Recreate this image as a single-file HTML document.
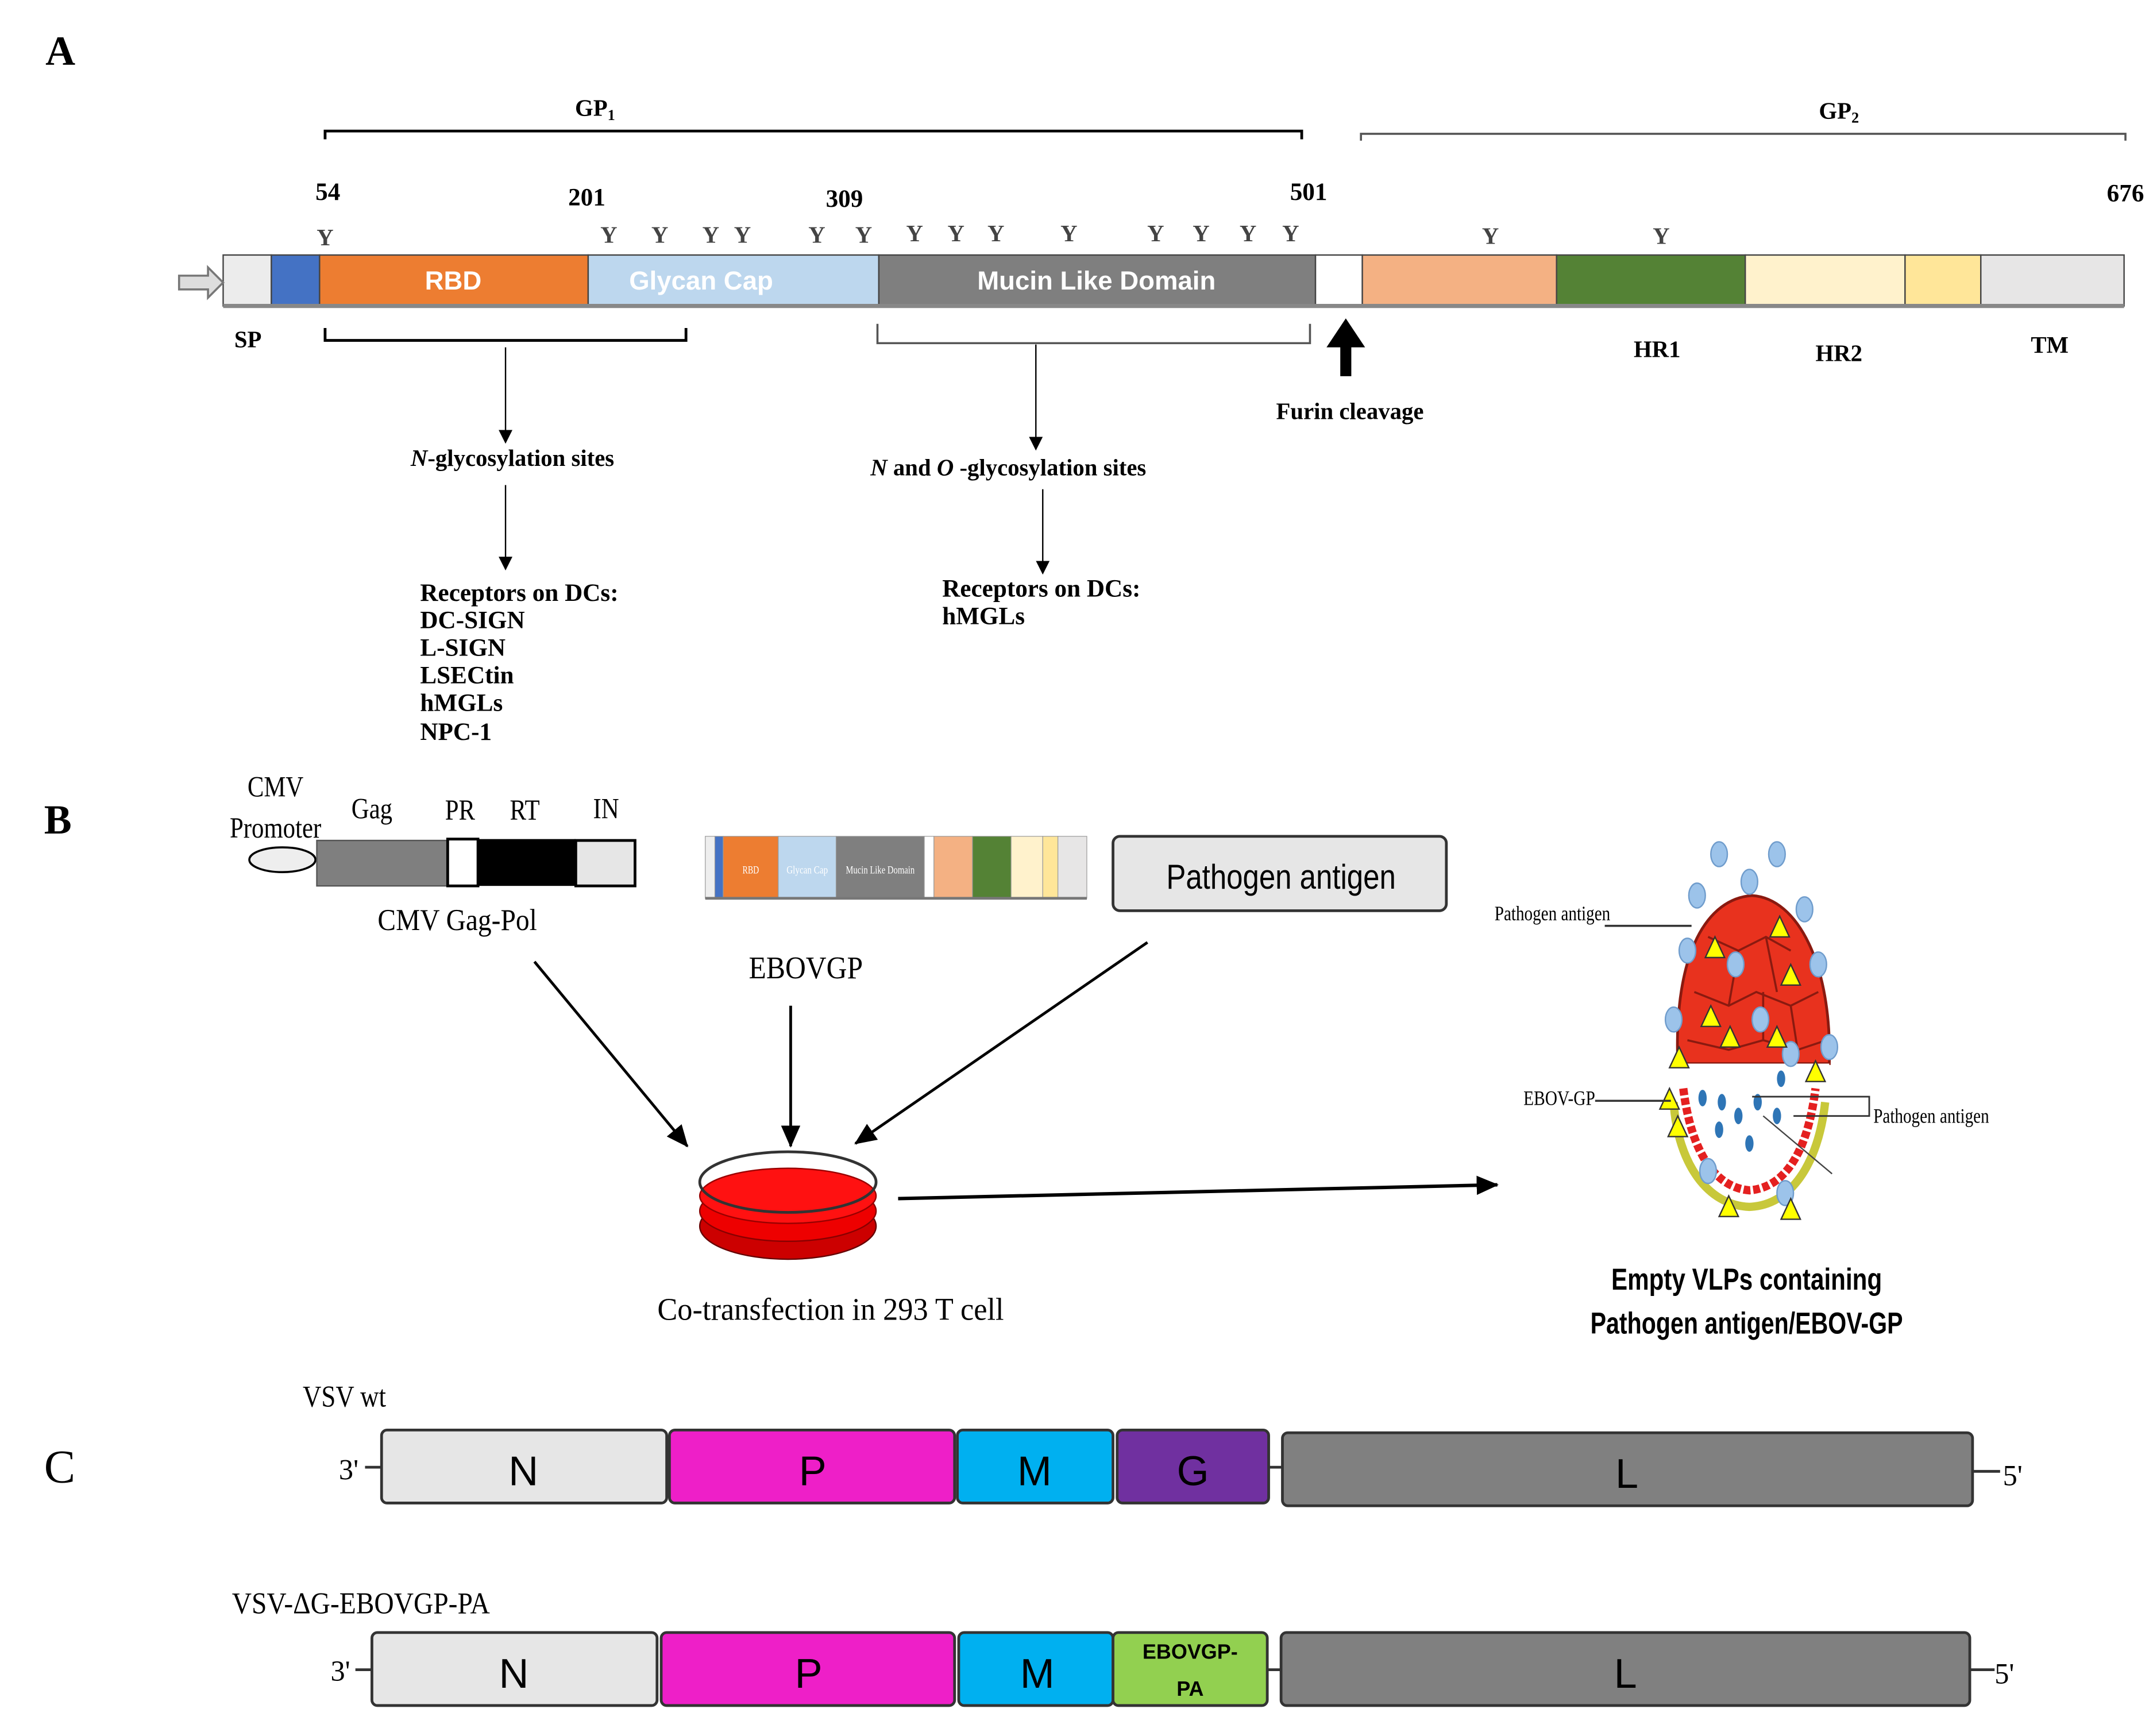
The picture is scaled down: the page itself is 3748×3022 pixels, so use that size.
<!DOCTYPE html>
<html><head><meta charset="utf-8"><style>
html,body{margin:0;padding:0;background:#fff}
svg{display:block}
.s{font-family:"Liberation Serif",serif;font-weight:bold}
.n{font-family:"Liberation Serif",serif}
.a{font-family:"Liberation Sans",sans-serif}
</style></head><body>
<svg width="3748" height="3022" viewBox="0 0 1563 1260" xmlns="http://www.w3.org/2000/svg">
<defs>
<marker id="ar" markerWidth="10" markerHeight="10" refX="9" refY="5" orient="auto" markerUnits="userSpaceOnUse"><path d="M0,0 L10,5 L0,10 z" fill="#000"/></marker>
<marker id="ar2" markerWidth="16" markerHeight="16" refX="15" refY="8" orient="auto" markerUnits="userSpaceOnUse"><path d="M0,1 L16,8 L0,15 z" fill="#000"/></marker>
</defs>
<!-- A -->
<text x="33" y="47" class="s" font-size="30">A</text>
<text x="432" y="84" class="s" font-size="17" text-anchor="middle">GP<tspan font-size="11" dy="3">1</tspan></text>
<path d="M236,101 V95 H945 V101" fill="none" stroke="#000" stroke-width="2"/>
<text x="1335" y="86" class="s" font-size="17" text-anchor="middle">GP<tspan font-size="11" dy="3">2</tspan></text>
<path d="M988,102 V97 H1543 V102" fill="none" stroke="#555" stroke-width="1.5"/>
<g class="s" font-size="18" text-anchor="middle">
<text x="238" y="145">54</text><text x="426" y="149">201</text><text x="613" y="150">309</text><text x="950" y="145">501</text><text x="1543" y="146">676</text>
</g>
<g class="s" font-size="17" text-anchor="middle" fill="#444">
<text x="236" y="178">Y</text><text x="442" y="176">Y</text><text x="479" y="176">Y</text><text x="516" y="176">Y</text><text x="539" y="176">Y</text><text x="593" y="176">Y</text><text x="627" y="176">Y</text><text x="664" y="175">Y</text><text x="694" y="175">Y</text><text x="723" y="175">Y</text><text x="776" y="175">Y</text><text x="839" y="175">Y</text><text x="872" y="175">Y</text><text x="906" y="175">Y</text><text x="937" y="175">Y</text><text x="1082" y="177">Y</text><text x="1206" y="177">Y</text>
</g>
<g stroke="#444" stroke-width="1">
<rect x="162" y="185" width="35" height="37" fill="#ececec"/>
<rect x="197" y="185" width="35" height="37" fill="#4472c4"/>
<rect x="232" y="185" width="195" height="37" fill="#ed7d31"/>
<rect x="427" y="185" width="211" height="37" fill="#bdd7ee"/>
<rect x="638" y="185" width="317" height="37" fill="#7f7f7f"/>
<rect x="955" y="185" width="34" height="37" fill="#fff"/>
<rect x="989" y="185" width="141" height="37" fill="#f4b183"/>
<rect x="1130" y="185" width="137" height="37" fill="#548235"/>
<rect x="1267" y="185" width="116" height="37" fill="#fff2cc"/>
<rect x="1383" y="185" width="55" height="37" fill="#ffe699"/>
<rect x="1438" y="185" width="104" height="37" fill="#e7e6e6"/>
</g>
<line x1="162" y1="222" x2="1542" y2="222" stroke="#888" stroke-width="3"/>
<g class="a" font-weight="bold" font-size="19" fill="#fff" text-anchor="middle">
<text x="329" y="210">RBD</text><text x="509" y="210">Glycan Cap</text><text x="796" y="210">Mucin Like Domain</text>
</g>
<path d="M130,200 H151 V194 L162,205 L151,216 V210 H130 z" fill="#ddd" stroke="#777" stroke-width="1.5"/>
<g class="s" font-size="17" text-anchor="middle">
<text x="180" y="252">SP</text><text x="1203" y="259">HR1</text><text x="1335" y="262">HR2</text><text x="1488" y="256">TM</text>
</g>
<path d="M236,238 V247 H498 V238" fill="none" stroke="#000" stroke-width="2"/>
<path d="M637,235 V249 H951 V235" fill="none" stroke="#555" stroke-width="1.5"/>
<line x1="367" y1="252" x2="367" y2="321" stroke="#000" marker-end="url(#ar)"/>
<line x1="752" y1="250" x2="752" y2="326" stroke="#000" marker-end="url(#ar)"/>
<path d="M977,231 L991,252 H981 V273 H973 V252 H963 z" fill="#000"/>
<text x="980" y="304" class="s" font-size="17" text-anchor="middle">Furin cleavage</text>
<text x="372" y="338" class="s" font-size="17" text-anchor="middle"><tspan font-style="italic">N</tspan>-glycosylation sites</text>
<line x1="367" y1="352" x2="367" y2="413" stroke="#000" marker-end="url(#ar)"/>
<text x="732" y="345" class="s" font-size="17" text-anchor="middle"><tspan font-style="italic">N</tspan> and <tspan font-style="italic">O</tspan> -glycosylation sites</text>
<line x1="757" y1="355" x2="757" y2="416" stroke="#000" marker-end="url(#ar)"/>
<g class="s" font-size="18">
<text x="305" y="436">Receptors on DCs:</text><text x="305" y="456">DC-SIGN</text><text x="305" y="476">L-SIGN</text><text x="305" y="496">LSECtin</text><text x="305" y="516">hMGLs</text><text x="305" y="537">NPC-1</text>
<text x="684" y="433">Receptors on DCs:</text><text x="684" y="453">hMGLs</text>
</g>
<!-- B -->
<text x="32" y="605" class="s" font-size="30">B</text>
<g class="n" font-size="21" text-anchor="middle">
<text x="200" y="578" transform="translate(200 0) scale(0.85 1) translate(-200 0)">CMV</text>
<text x="200" y="608" transform="translate(200 0) scale(0.85 1) translate(-200 0)">Promoter</text>
<text x="270" y="594" transform="translate(270 0) scale(0.85 1) translate(-270 0)">Gag</text>
<text x="334" y="595" transform="translate(334 0) scale(0.85 1) translate(-334 0)">PR</text>
<text x="381" y="595" transform="translate(381 0) scale(0.85 1) translate(-381 0)">RT</text>
<text x="440" y="594" transform="translate(440 0) scale(0.85 1) translate(-440 0)">IN</text>
<text x="332" y="675" font-size="22" transform="translate(332 0) scale(0.9 1) translate(-332 0)">CMV Gag-Pol</text>
<text x="585" y="710" font-size="23" transform="translate(585 0) scale(0.9 1) translate(-585 0)">EBOVGP</text>
<text x="603" y="958" font-size="23" transform="translate(603 0) scale(0.95 1) translate(-603 0)">Co-transfection in 293 T cell</text>
</g>
<ellipse cx="205" cy="624" rx="24" ry="9" fill="#eee" stroke="#000" stroke-width="1.5"/>
<rect x="230" y="610" width="95" height="33" fill="#7f7f7f" stroke="#555"/>
<rect x="325" y="609" width="22" height="34" fill="#fff" stroke="#000" stroke-width="2"/>
<rect x="347" y="609" width="71" height="34" fill="#000"/>
<rect x="418" y="610" width="43" height="33" fill="#e6e6e6" stroke="#000" stroke-width="2"/>
<g stroke="#999" stroke-width="0.5">
<rect x="512" y="607" width="7" height="45" fill="#eee"/>
<rect x="519" y="607" width="6" height="45" fill="#4472c4"/>
<rect x="525" y="607" width="40" height="45" fill="#ed7d31"/>
<rect x="565" y="607" width="42" height="45" fill="#bdd7ee"/>
<rect x="607" y="607" width="64" height="45" fill="#7f7f7f"/>
<rect x="671" y="607" width="7" height="45" fill="#fff"/>
<rect x="678" y="607" width="28" height="45" fill="#f4b183"/>
<rect x="706" y="607" width="28" height="45" fill="#548235"/>
<rect x="734" y="607" width="23" height="45" fill="#fff2cc"/>
<rect x="757" y="607" width="11" height="45" fill="#ffe699"/>
<rect x="768" y="607" width="21" height="45" fill="#e7e6e6"/>
</g>
<line x1="512" y1="652" x2="789" y2="652" stroke="#777" stroke-width="2"/>
<g class="n" font-size="8" fill="#fff" text-anchor="middle"><text x="545" y="634" textLength="12" lengthAdjust="spacingAndGlyphs">RBD</text><text x="586" y="634" textLength="30" lengthAdjust="spacingAndGlyphs">Glycan Cap</text><text x="639" y="634" textLength="50" lengthAdjust="spacingAndGlyphs">Mucin Like Domain</text></g>
<rect x="808" y="607" width="242" height="54" rx="5" fill="#e6e6e6" stroke="#333" stroke-width="2"/>
<text x="930" y="645" class="a" font-size="25" text-anchor="middle" transform="translate(930 0) scale(0.85 1) translate(-930 0)">Pathogen antigen</text>
<line x1="388" y1="698" x2="499" y2="832" stroke="#000" stroke-width="2" marker-end="url(#ar2)"/>
<line x1="574" y1="730" x2="574" y2="832" stroke="#000" stroke-width="2" marker-end="url(#ar2)"/>
<line x1="833" y1="684" x2="621" y2="830" stroke="#000" stroke-width="2" marker-end="url(#ar2)"/>
<!-- dish -->
<ellipse cx="572" cy="890" rx="64" ry="24" fill="#c00" stroke="#600"/>
<ellipse cx="572" cy="879" rx="64" ry="22" fill="#e00" stroke="#800"/>
<ellipse cx="572" cy="868" rx="64" ry="20" fill="#f11" stroke="#900"/>
<ellipse cx="572" cy="858" rx="64" ry="22" fill="none" stroke="#333" stroke-width="2"/>
<line x1="652" y1="870" x2="1087" y2="860" stroke="#000" stroke-width="2.5" marker-end="url(#ar2)"/>
<!-- VLP -->
<g>
<path d="M1218,772 C1215,690 1240,652 1272,650 C1305,652 1330,700 1328,772 z" fill="#e8321e" stroke="#8a1a10" stroke-width="2"/>
<g fill="none" stroke="#8a1a10" stroke-width="1.5">
<path d="M1240,680 L1262,690 L1282,680 L1300,690 M1230,720 L1255,730 L1275,720 L1300,730 L1320,720 M1225,755 L1255,762 L1280,755 L1305,762 L1326,755 M1262,690 L1255,730 M1282,680 L1290,720 M1280,720 L1280,755 M1300,730 L1305,762"/>
</g>
<path d="M1218,772 L1328,772 C1328,830 1305,868 1272,870 C1240,868 1218,830 1218,772 z" fill="#fff"/>
<path d="M1215,800 C1218,845 1240,875 1270,876 C1300,875 1320,845 1325,800" fill="none" stroke="#c8c83a" stroke-width="6"/>
<path d="M1222,790 C1228,838 1246,862 1270,864 C1295,862 1312,838 1318,790" fill="none" stroke="#e42020" stroke-width="6" stroke-dasharray="5 2"/>
<g fill="#9cc3ea" stroke="#6f9ccc" stroke-width="1">
<ellipse cx="1232" cy="650" rx="6" ry="9"/><ellipse cx="1248" cy="620" rx="6" ry="9"/><ellipse cx="1270" cy="640" rx="6" ry="9"/><ellipse cx="1290" cy="620" rx="6" ry="9"/><ellipse cx="1310" cy="660" rx="6" ry="9"/><ellipse cx="1320" cy="700" rx="6" ry="9"/><ellipse cx="1225" cy="690" rx="6" ry="9"/><ellipse cx="1215" cy="740" rx="6" ry="9"/><ellipse cx="1328" cy="760" rx="6" ry="9"/><ellipse cx="1260" cy="700" rx="6" ry="9"/><ellipse cx="1278" cy="740" rx="6" ry="9"/><ellipse cx="1300" cy="765" rx="6" ry="9"/><ellipse cx="1240" cy="850" rx="6" ry="9"/><ellipse cx="1296" cy="866" rx="6" ry="9"/>
</g>
<g fill="#2e75b6"><ellipse cx="1236" cy="797" rx="3" ry="6"/><ellipse cx="1250" cy="800" rx="3" ry="6"/><ellipse cx="1262" cy="810" rx="3" ry="6"/><ellipse cx="1276" cy="800" rx="3" ry="6"/><ellipse cx="1290" cy="810" rx="3" ry="6"/><ellipse cx="1270" cy="830" rx="3" ry="6"/><ellipse cx="1248" cy="820" rx="3" ry="6"/><ellipse cx="1293" cy="783" rx="3" ry="6"/></g>
<g fill="#ffff00" stroke="#333" stroke-width="1">
<path d="M1245,680 l-7,15 h14z"/><path d="M1300,700 l-7,15 h14z"/><path d="M1292,665 l-7,15 h14z"/><path d="M1242,730 l-7,15 h14z"/><path d="M1256,745 l-7,15 h14z"/><path d="M1290,745 l-7,15 h14z"/><path d="M1219,760 l-7,15 h14z"/><path d="M1318,770 l-7,15 h14z"/><path d="M1212,790 l-7,15 h14z"/><path d="M1218,810 l-7,15 h14z"/><path d="M1300,870 l-7,15 h14z"/><path d="M1255,868 l-7,15 h14z"/>
</g>
<line x1="1280" y1="810" x2="1330" y2="852" stroke="#444"/>
</g>
<g class="n" font-size="15">
<text x="1085" y="668" textLength="84" lengthAdjust="spacingAndGlyphs">Pathogen antigen</text>
<text x="1106" y="802" textLength="52" lengthAdjust="spacingAndGlyphs">EBOV-GP</text>
<text x="1360" y="815" textLength="84" lengthAdjust="spacingAndGlyphs">Pathogen antigen</text>
</g>
<path d="M1165,672 H1228" stroke="#333" stroke-width="1.5"/>
<path d="M1158,799 H1213" stroke="#333" stroke-width="1.5"/>
<path d="M1272,796 H1357 V810 H1302" fill="none" stroke="#333" stroke-width="1.2"/>
<g class="a" font-weight="bold" font-size="22" text-anchor="middle">
<text x="1268" y="936" transform="translate(1268 0) scale(0.8 1) translate(-1268 0)">Empty VLPs containing</text>
<text x="1268" y="968" transform="translate(1268 0) scale(0.78 1) translate(-1268 0)">Pathogen antigen/EBOV-GP</text>
</g>
<!-- C -->
<text x="32" y="1076" class="n" font-size="34">C</text>
<text x="250" y="1021" class="n" font-size="22" text-anchor="middle" transform="translate(250 0) scale(0.85 1) translate(-250 0)">VSV wt</text>
<text x="262" y="1171" class="n" font-size="22" text-anchor="middle" transform="translate(262 0) scale(0.9 1) translate(-262 0)">VSV-ΔG-EBOVGP-PA</text>
<g stroke="#333" stroke-width="2">
<rect x="277" y="1038" width="207" height="53" rx="4" fill="#e6e6e6"/>
<rect x="486" y="1038" width="207" height="53" rx="4" fill="#ee1fc8"/>
<rect x="695" y="1038" width="113" height="53" rx="4" fill="#00b0f0"/>
<rect x="811" y="1038" width="110" height="53" rx="4" fill="#7030a0"/>
<rect x="931" y="1040" width="501" height="53" rx="4" fill="#808080"/>
<line x1="921" y1="1065" x2="931" y2="1065"/>
<line x1="265" y1="1065" x2="277" y2="1065"/>
<line x1="1432" y1="1068" x2="1452" y2="1068"/>
<rect x="270" y="1185" width="207" height="53" rx="4" fill="#e6e6e6"/>
<rect x="480" y="1185" width="213" height="53" rx="4" fill="#ee1fc8"/>
<rect x="696" y="1185" width="112" height="53" rx="4" fill="#00b0f0"/>
<rect x="808" y="1185" width="112" height="53" rx="4" fill="#92d050"/>
<rect x="930" y="1185" width="500" height="53" rx="4" fill="#808080"/>
<line x1="920" y1="1212" x2="930" y2="1212"/>
<line x1="258" y1="1212" x2="270" y2="1212"/>
<line x1="1430" y1="1212" x2="1448" y2="1212"/>
</g>
<g class="a" font-size="30" text-anchor="middle">
<text x="380" y="1078">N</text><text x="590" y="1078">P</text><text x="751" y="1078">M</text><text x="866" y="1078">G</text><text x="1181" y="1080">L</text>
<text x="373" y="1225">N</text><text x="587" y="1225">P</text><text x="753" y="1225">M</text><text x="1180" y="1225">L</text>
</g>
<g class="a" font-size="15" font-weight="bold" text-anchor="middle"><text x="864" y="1204">EBOVGP-</text><text x="864" y="1231">PA</text></g>
<g class="n" font-size="21">
<text x="246" y="1074">3'</text><text x="1454" y="1078">5'</text>
<text x="240" y="1220">3'</text><text x="1448" y="1222">5'</text>
</g>
</svg>
</body></html>
